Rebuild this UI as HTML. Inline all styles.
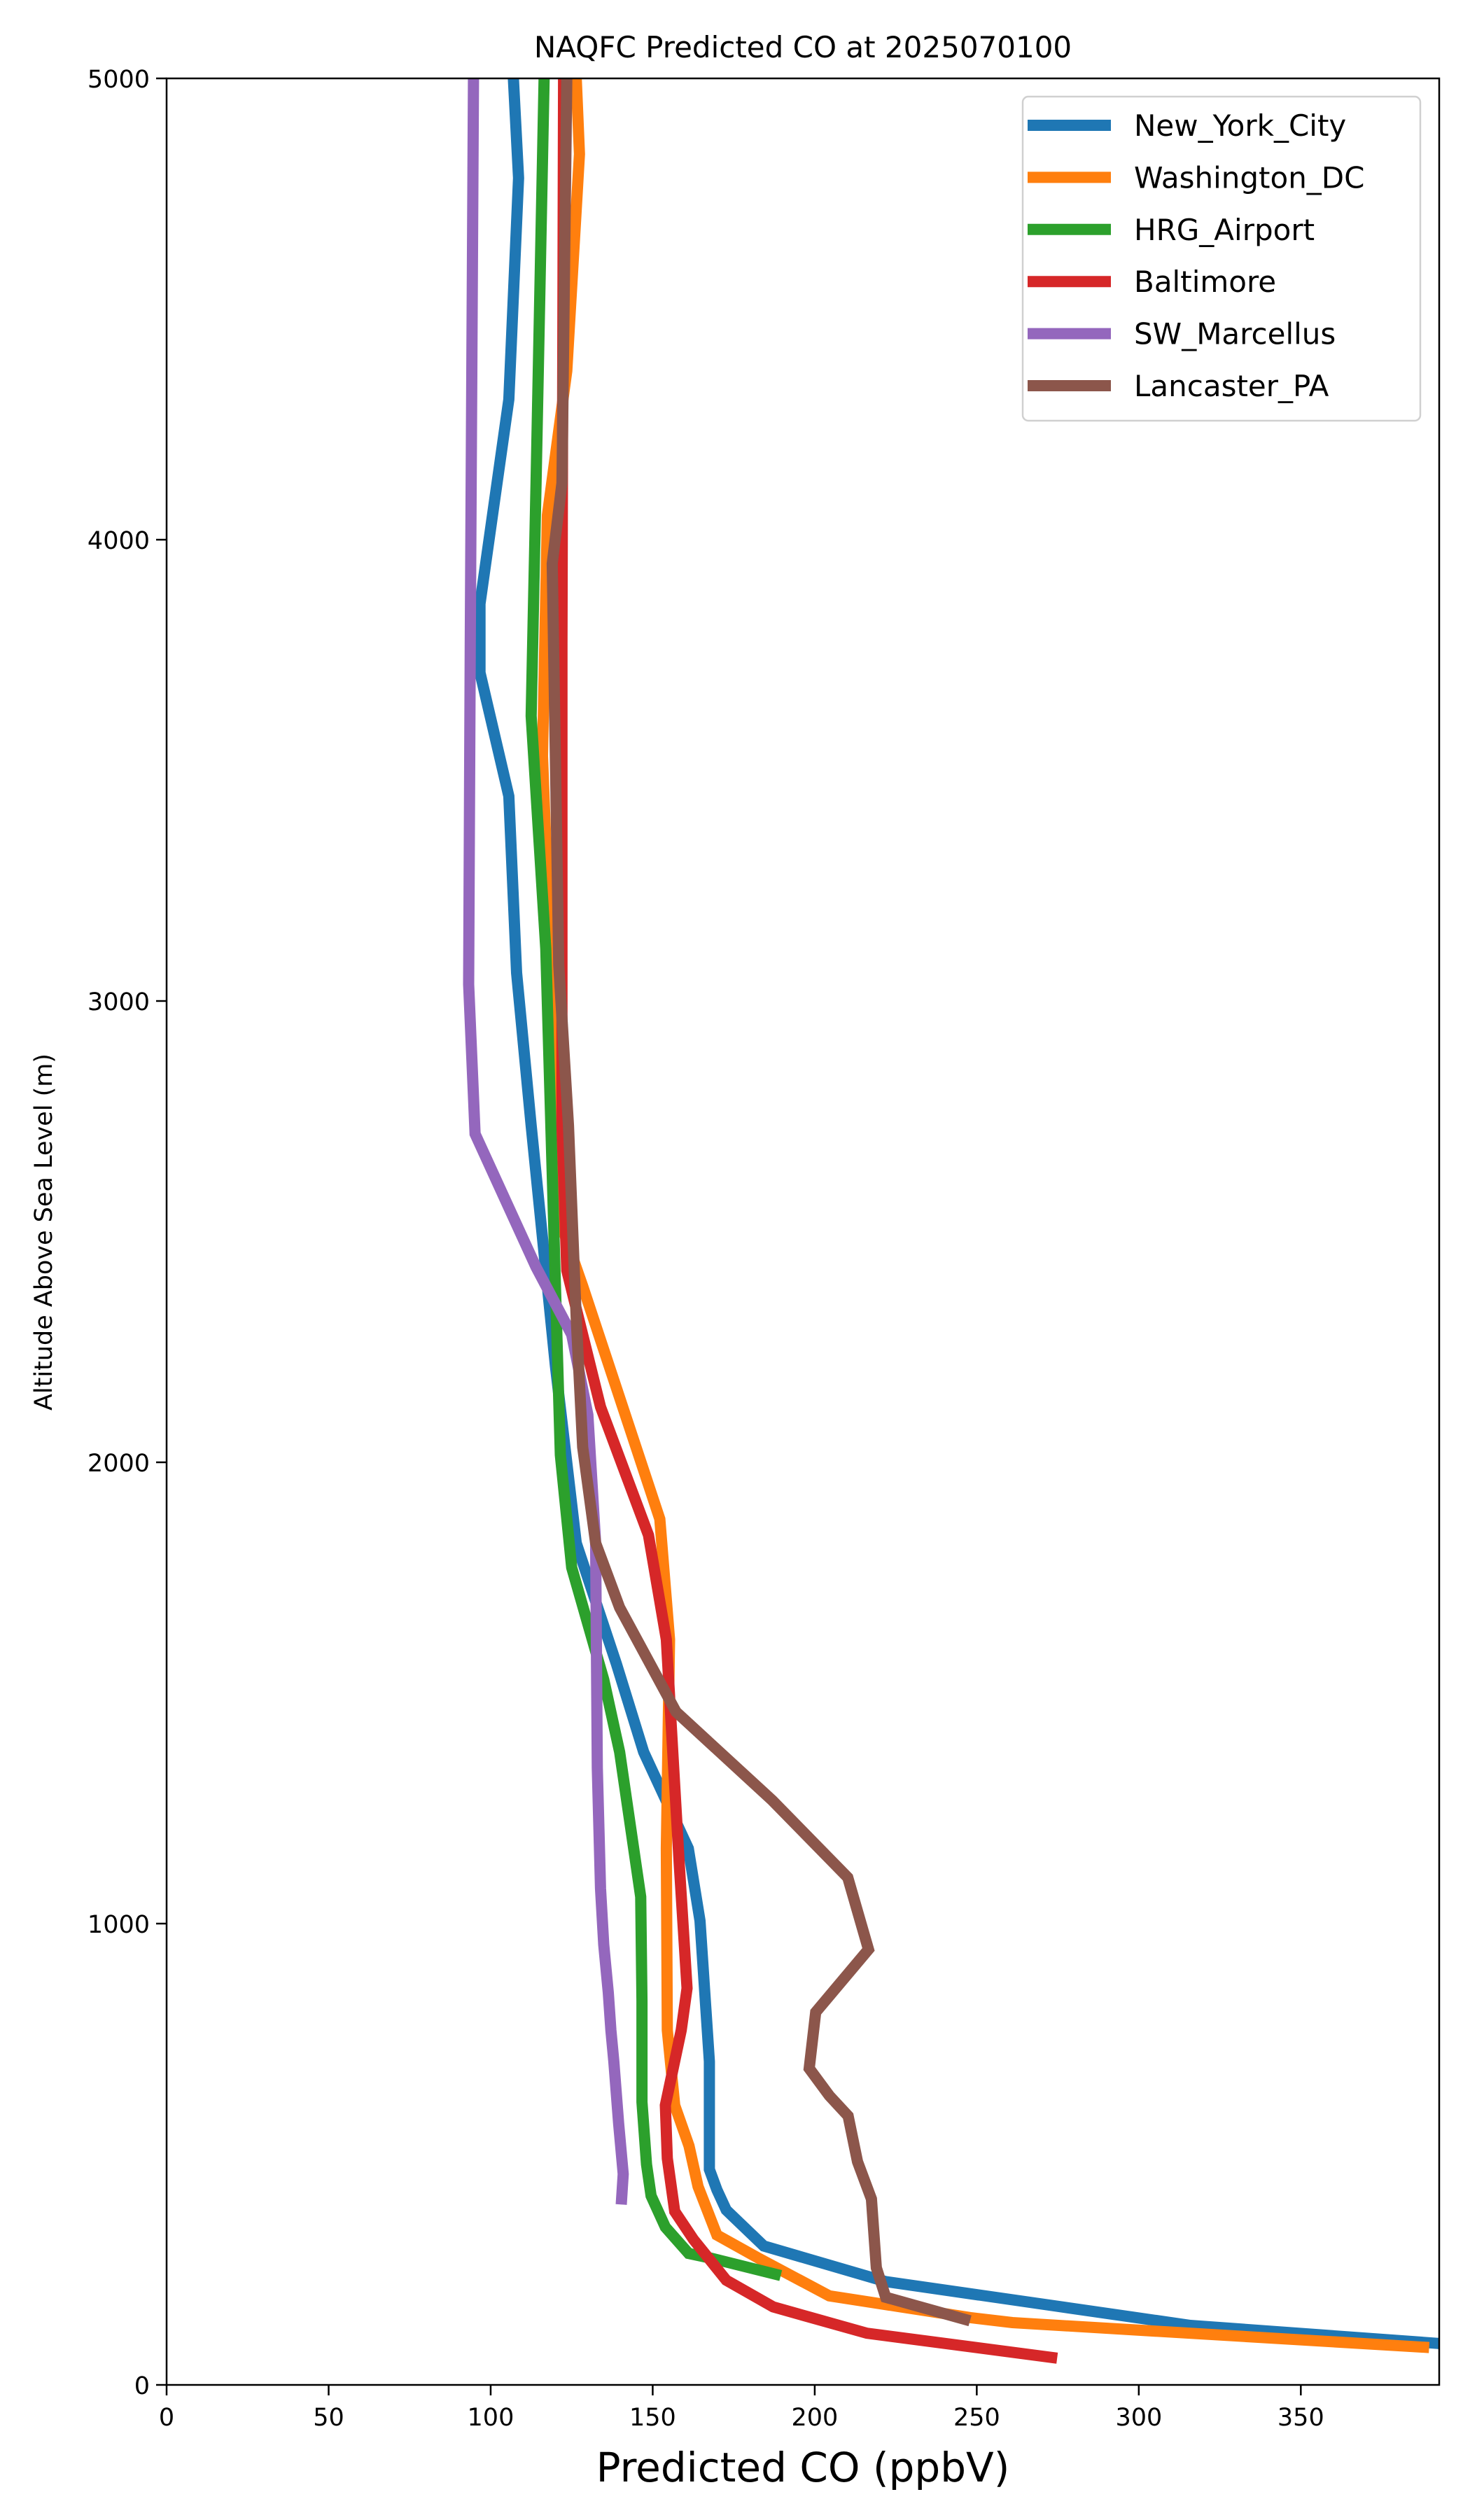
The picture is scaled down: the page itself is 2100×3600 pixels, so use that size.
<!DOCTYPE html>
<html><head><meta charset="utf-8"><style>
html,body{margin:0;padding:0;background:#fff;}
svg{display:block;font-family:"DejaVu Sans","Liberation Sans",sans-serif;}
</style></head><body>
<svg id="chart" width="2100" height="3600" viewBox="0 0 2100 3600">
<rect width="2100" height="3600" fill="#fff"/>
<text x="1147" y="82" font-size="42" text-anchor="middle">NAQFC Predicted CO at 2025070100</text>
<defs><clipPath id="plotclip"><rect x="238" y="112" width="1818" height="3295"/></clipPath></defs>
<g id="series" clip-path="url(#plotclip)"></g>
<g id="axes"></g>
<g id="legend"></g>
<text x="1147" y="3545" font-size="58" text-anchor="middle">Predicted CO (ppbV)</text>
<text transform="translate(74,1760) rotate(-90)" font-size="35" text-anchor="middle">Altitude Above Sea Level (m)</text>
</svg>
<script>
const xTicks = [0, 50, 100, 150, 200, 250, 300, 350];
const yTicks = [0, 1000, 2000, 3000, 4000, 5000];
const seriesNames = ["New_York_City", "Washington_DC", "HRG_Airport", "Baltimore", "SW_Marcellus", "Lancaster_PA"];
const nycCO = [107,108.6,105.6,96.7,96.7,105.6,108,112.5,120,126.4,138.8,147.2,161,164.6,167.5,167.5,169.8,172.7,184.3,221.9,315.9,400];
const nycAlt = [5000,4784,4304,3861,3712,3444,3061,2730,2208,1825,1563,1372,1163,1006,701,467,423,379,301,224,129,86];
const dcCO = [126.4,127.4,123.5,117.5,116,121.5,128.4,152.2,155.2,154.2,154.5,156.8,161.2,164,169.8,182.8,204.5,247.9,261,389.6];
const dcAlt = [5000,4836,4366,4053,3531,2521,2382,1877,1616,1163,769,606,518,430,325,274,193,146,135,81];
const hrgCO = [116.5,114,112.5,117,120,121.5,125,134.9,139.8,146.3,146.7,146.7,148.1,149.5,153.9,161.1,168.4,189.5];
const hrgAlt = [5000,4123,3618,3113,2382,2016,1772,1529,1372,1058,832,613,478,410,342,285,274,237];
const balCO = [122.5,122,122,123.5,133.9,148.7,154.2,156.2,158.2,160.6,158.8,153.9,154.5,156.8,162.6,172.7,187.2,216.1,274.8];
const balAlt = [5000,3774,2730,2416,2120,1842,1616,1372,1128,860,769,606,491,376,315,227,169,112,58];
const swCO = [94.7,93.7,93.2,95.2,114,125,130,132.4,132.9,133.9,134.9,136.3,137.1,138,139.5,140.9,140.3];
const swAlt = [5000,3774,3036,2712,2423,2277,2103,1825,1337,1076,954,850,769,701,566,457,391];
const lanCO = [123.5,122,119,121,124,126.4,128.4,132.4,139.8,157.2,186.9,210.2,216.6,200.3,198.3,204.5,210.3,213.2,217.5,219,221.9,247.9];
const lanAlt = [5000,4123,3948,3078,2730,2312,2033,1825,1685,1459,1267,1100,944,808,686,627,583,484,403,254,190,139];
const colors = ["#1f77b4","#ff7f0e","#2ca02c","#d62728","#9467bd","#8c564b"];

const X0=238, X1=2056, Y0=3407, Y1=112, XMAX=392.7, YMAX=5000;
const sx = v => X0 + v/XMAX*(X1-X0);
const sy = v => Y0 - v/YMAX*(Y0-Y1);
const NS="http://www.w3.org/2000/svg";
function mk(tag, attrs){const e=document.createElementNS(NS,tag);for(const k in attrs)e.setAttribute(k,attrs[k]);return e;}

const sg=document.getElementById('series');
const all=[[nycCO,nycAlt],[dcCO,dcAlt],[hrgCO,hrgAlt],[balCO,balAlt],[swCO,swAlt],[lanCO,lanAlt]];
all.forEach((s,i)=>{
  const pts=s[0].map((v,j)=>sx(v).toFixed(1)+","+sy(s[1][j]).toFixed(1)).join(" ");
  const pl=mk('polyline',{points:pts,fill:"none",stroke:colors[i],"stroke-width":16,"stroke-linejoin":"miter"});
  
  
  sg.appendChild(pl);
});

const ax=document.getElementById('axes');
const frame=mk('rect',{x:X0,y:Y1,width:X1-X0,height:Y0-Y1,fill:"none",stroke:"#000","stroke-width":2.5});


ax.appendChild(frame);
xTicks.forEach(t=>{
  const l=mk('line',{x1:sx(t),x2:sx(t),y1:Y0,y2:Y0+15,stroke:"#000","stroke-width":2.5});
  
  
  ax.appendChild(l);
  const tx=mk('text',{x:sx(t),y:Y0+58,"font-size":35,"text-anchor":"middle"});
  
  
  tx.textContent=t; ax.appendChild(tx);
});
yTicks.forEach(t=>{
  const l=mk('line',{x1:X0-15,x2:X0,y1:sy(t),y2:sy(t),stroke:"#000","stroke-width":2.5});
  
  
  ax.appendChild(l);
  const tx=mk('text',{x:X0-24,y:sy(t)+13,"font-size":35,"text-anchor":"end"});
  
  
  tx.textContent=t; ax.appendChild(tx);
});

const lg=document.getElementById('legend');
const box=mk('rect',{x:1461,y:138,width:568,height:463,rx:8,fill:"#fff",stroke:"#ccc","stroke-width":2.5,opacity:0.9});


lg.appendChild(box);
seriesNames.forEach((n,i)=>{
  const y=179+i*74.4;
  const l=mk('line',{x1:1468,x2:1587,y1:y,y2:y,stroke:colors[i],"stroke-width":16});
  
  
  lg.appendChild(l);
  const tx=mk('text',{x:1620,y:y+15,"font-size":42});
  
  
  tx.textContent=n; lg.appendChild(tx);
});
</script>
</body></html>
